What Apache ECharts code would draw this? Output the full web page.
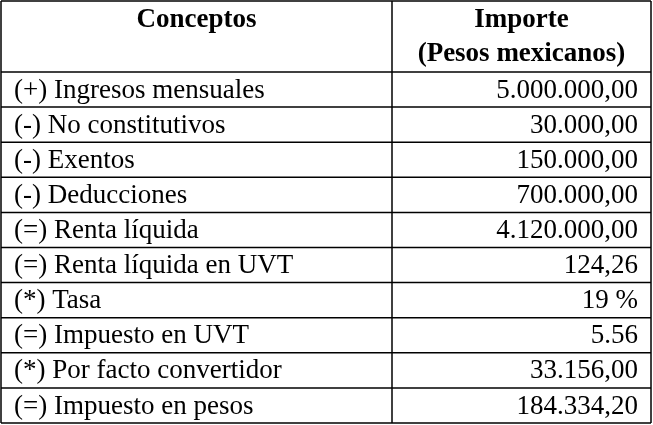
<!DOCTYPE html>
<html><head><meta charset="utf-8">
<script src="https://cdn.jsdelivr.net/npm/echarts@6/dist/echarts.min.js"></script>
<style>html,body{margin:0;padding:0;background:#fff}#c{width:653px;height:425px}</style>
</head><body><div id="c"></div>
<script>
const headers = ["Conceptos", "Importe", "(Pesos mexicanos)"];
const concepts = ["(+) Ingresos mensuales","(-) No constitutivos","(-) Exentos","(-) Deducciones","(=) Renta líquida","(=) Renta líquida en UVT","(*) Tasa","(=) Impuesto en UVT","(*) Por facto convertidor","(=) Impuesto en pesos"];
const amounts = ["5.000.000,00","30.000,00","150.000,00","700.000,00","4.120.000,00","124,26","19 %","5.56","33.156,00","184.334,20"];

const chart = echarts.init(document.getElementById('c'));
const L = 1, R = 651, T = 1, B = 423, MID = 392, HEAD = 72;
const rowH = (B - HEAD) / concepts.length;
const font = '"Liberation Serif", "DejaVu Serif", serif';
const els = [];
const line = (x1,y1,x2,y2)=>els.push({type:'line',shape:{x1,y1,x2,y2},style:{stroke:'#000',lineWidth:1.5}});
line(L,T,R,T); line(L,B,R,B); line(L,T,L,B); line(R,T,R,B); line(MID,T,MID,B);
line(L,HEAD,R,HEAD);
for (let i=1;i<concepts.length;i++){ const y=HEAD+i*rowH; line(L,y,R,y); }
const txt=(s,x,y,align,bold)=>els.push({type:'text',x,y,style:{text:s,fill:'#000',font:(bold?'bold ':'')+'27px '+font,textAlign:align,textVerticalAlign:'middle'}});
txt(headers[0],(L+MID)/2,20,'center',true);
txt(headers[1],(MID+R)/2,20,'center',true);
txt(headers[2],(MID+R)/2,54,'center',true);
concepts.forEach((c,i)=>{
  const y=HEAD+(i+0.5)*rowH+1;
  txt(c,14,y,'left',false);
  txt(amounts[i],638,y,'right',false);
});
chart.setOption({animation:false,graphic:{elements:els}});
</script></body></html>
